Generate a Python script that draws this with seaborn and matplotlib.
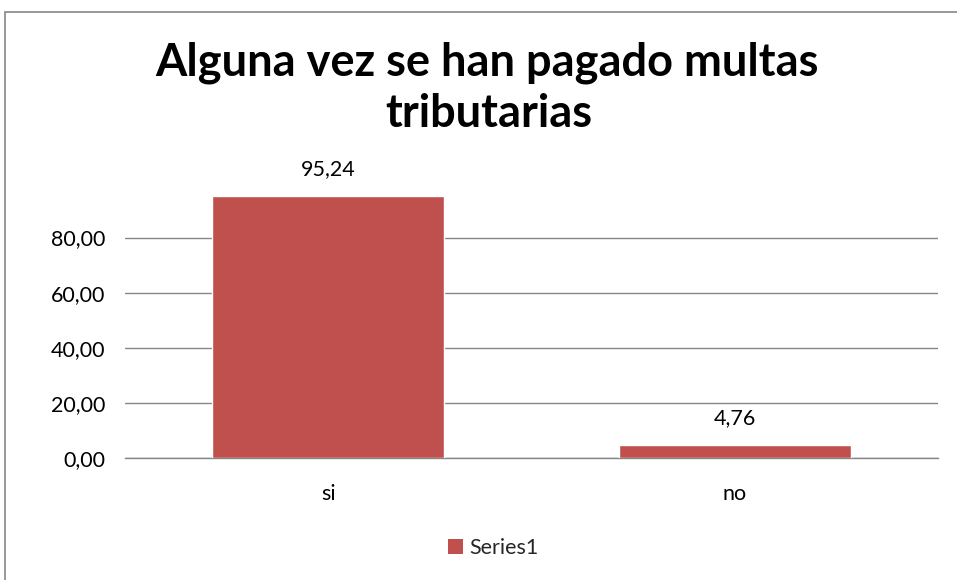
import matplotlib
matplotlib.use("Agg")
import matplotlib.pyplot as plt
import seaborn as sns
import pandas as pd
from matplotlib.ticker import FuncFormatter, FixedLocator
from matplotlib.patches import Patch, Rectangle

categories = ["si", "no"]
values = [95.24, 4.76]
series_name = "Series1"
title_lines = ["Alguna vez se han pagado multas", "tributarias"]
yticks = [0, 20, 40, 60, 80]

sns.set_theme(style="white")
plt.rcParams['font.family'] = ['Lato', 'DejaVu Sans']

df = pd.DataFrame({"cat": categories, "val": values})

fig = plt.figure(figsize=(9.57, 5.8), dpi=100)
W, H = 957, 580
ax = fig.add_axes([125 / W, 1 - 458 / H, (938 - 125) / W, (458 - 182.4) / H])

bar_color = "#C0504D"
sns.barplot(data=df, x="cat", y="val", color=bar_color, width=0.57,
            saturation=1, ax=ax, zorder=3)

ax.set_ylim(0, 100)
ax.yaxis.set_major_locator(FixedLocator(yticks))
ax.yaxis.set_major_formatter(FuncFormatter(lambda v, p: f"{v:.2f}".replace(".", ",")))
ax.grid(axis="y", color="#868686", linewidth=1.0, zorder=0)
ax.set_xlabel("")
ax.set_ylabel("")
for s in ["top", "right", "left"]:
    ax.spines[s].set_visible(False)
ax.spines["bottom"].set_color("#868686")
ax.spines["bottom"].set_linewidth(1.0)
ax.tick_params(axis="y", length=0, pad=14, labelsize=15.5, labelcolor="black")
ax.tick_params(axis="x", length=0, pad=19, labelsize=15.5, labelcolor="black")

for c in ax.containers:
    ax.bar_label(c, labels=[f"{v:.2f}".replace(".", ",") for v in values],
                 padding=12, fontsize=15.5, color="black")

fig.text(487 / W, 1 - 75 / H, title_lines[0], ha="center", va="baseline",
         fontsize=32.5, fontweight="bold", color="black")
fig.text(489 / W, 1 - 127 / H, title_lines[1], ha="center", va="baseline",
         fontsize=32.5, fontweight="bold", color="black")

handles = [Patch(facecolor=bar_color, edgecolor="none", label=series_name)]
fig.legend(handles=handles, loc="center", bbox_to_anchor=(493 / W, 1 - 548 / H),
           frameon=False, fontsize=15.5, handlelength=0.7, handleheight=0.7,
           handletextpad=0.3)

fig.patches.append(Rectangle((5 / W, -0.1), 1.2, 1 - 12 / H + 0.1,
                             transform=fig.transFigure, fill=False,
                             edgecolor="#868686", linewidth=1.2))

fig.savefig("out.png", dpi=100)
